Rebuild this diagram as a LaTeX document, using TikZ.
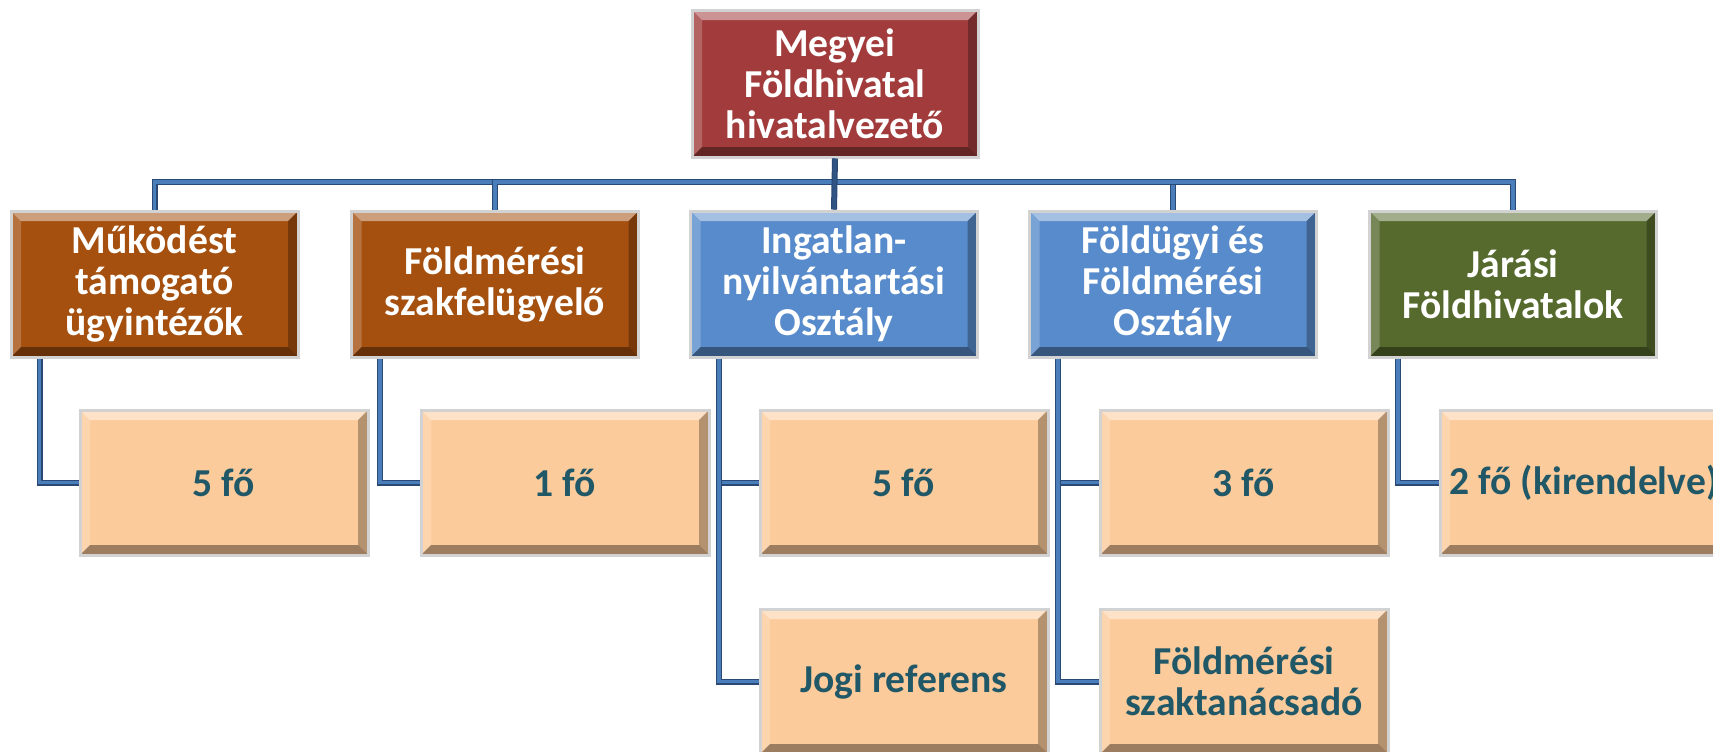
\documentclass[tikz,border=0pt]{standalone}
\usepackage{fontspec}
\setmainfont{Carlito}
\usetikzlibrary{positioning}

\definecolor{headred}{HTML}{A23C3C}
\definecolor{unitbrown}{HTML}{A5500F}
\definecolor{unitblue}{HTML}{588BCB}
\definecolor{unitgreen}{HTML}{566A2D}
\definecolor{leafpeach}{HTML}{FCCB9B}
\definecolor{leaftext}{HTML}{215868}
\definecolor{lineblue}{HTML}{4A7EBB}
\definecolor{linedark}{HTML}{2A4A75}

\tikzset{
  bevel/.style={path picture={
    \path (path picture bounding box.north west) coordinate (bnw)
          (path picture bounding box.north east) coordinate (bne)
          (path picture bounding box.south west) coordinate (bsw)
          (path picture bounding box.south east) coordinate (bse);
    \fill[white,opacity=.45] (bnw) -- (bne) -- ([shift={(-5pt,-5pt)}]bne) -- ([shift={(5pt,-5pt)}]bnw) -- cycle;
    \fill[white,opacity=.2] (bnw) -- ([shift={(5pt,-5pt)}]bnw) -- ([shift={(5pt,5pt)}]bsw) -- (bsw) -- cycle;
    \fill[black,opacity=.38] (bsw) -- ([shift={(5pt,5pt)}]bsw) -- ([shift={(-5pt,5pt)}]bse) -- (bse) -- cycle;
    \fill[black,opacity=.28] (bse) -- ([shift={(-5pt,5pt)}]bse) -- ([shift={(-5pt,-5pt)}]bne) -- (bne) -- cycle;
  }}
}

\begin{document}
\begin{tikzpicture}[x=0.5pt,y=-0.5pt,
  box/.style={rectangle,draw=gray!35,line width=1.5pt,fill=#1,bevel, inner sep=2pt,align=center,text=white, font=\bfseries\fontsize{19.8}{20.5}\selectfont, minimum width=143.5pt,minimum height=73pt},
  leaf/.style={box=leafpeach,text=leaftext,minimum width=144pt,minimum height=72.5pt},
  link/.style={draw=linedark,line width=0.6pt,double=lineblue,double distance=1.8pt},
  stem/.style={link,double=linedark!80!lineblue}
]
  \useasboundingbox (0,0) rectangle (1713,751);
  \clip (0,0) rectangle (1713,751);
  \coordinate (bus) at (835,182);
  \node[box=headred,minimum width=143pt,minimum height=73.5pt] (head) at (835,83.5) {Megyei\\Földhivatal\\hivatalvezető};
  \node[box=unitbrown] (supp)   at (154.5,284) {Működést\\támogató\\ügyintézők};
  \node[box=unitbrown] (survey) at (495,284)   {Földmérési\\szakfelügyelő};
  \node[box=unitblue]  (land)   at (834,284)   {Ingatlan-\\nyilvántartási\\Osztály};
  \node[box=unitblue]  (agri)   at (1173,284)  {Földügyi és\\Földmérési\\Osztály};
  \node[box=unitgreen] (dist)   at (1513,284)  {Járási\\Földhivatalok};
  \node[leaf] (suppn)   at (224,482.5)  {5 fő};
  \node[leaf] (surveyn) at (565,482.5)  {1 fő};
  \node[leaf] (landn)   at (904,482.5)  {5 fő};
  \node[leaf] (landjog) at (904,681.5)  {Jogi referens};
  \node[leaf] (agrin)   at (1244,482.5) {3 fő};
  \node[leaf] (agrisz)  at (1244,681.5) {Földmérési\\szaktanácsadó};
  \node[leaf] (distn)   at (1584,482.5) {2 fő (kirendelve)};
  % bus from the head
  \draw[link] (bus) -| (supp.north);
  \draw[link] (bus) -| (survey.north);
  \draw[link] (bus) -| (agri.north);
  \draw[link] (bus) -| (dist.north);
  \draw[stem] (head.south) -- (land.north);
  % staff under each unit
  \draw[link] ([xshift=15pt]supp.south west) |- (suppn.west);
  \draw[link] ([xshift=15pt]survey.south west) |- (surveyn.west);
  \draw[link] ([xshift=15pt]land.south west) |- (landn.west);
  \draw[link] ([xshift=15pt]land.south west) |- (landjog.west);
  \draw[link] ([xshift=15pt]agri.south west) |- (agrin.west);
  \draw[link] ([xshift=15pt]agri.south west) |- (agrisz.west);
  \draw[link] ([xshift=15pt]dist.south west) |- (distn.west);
\end{tikzpicture}
\end{document}
